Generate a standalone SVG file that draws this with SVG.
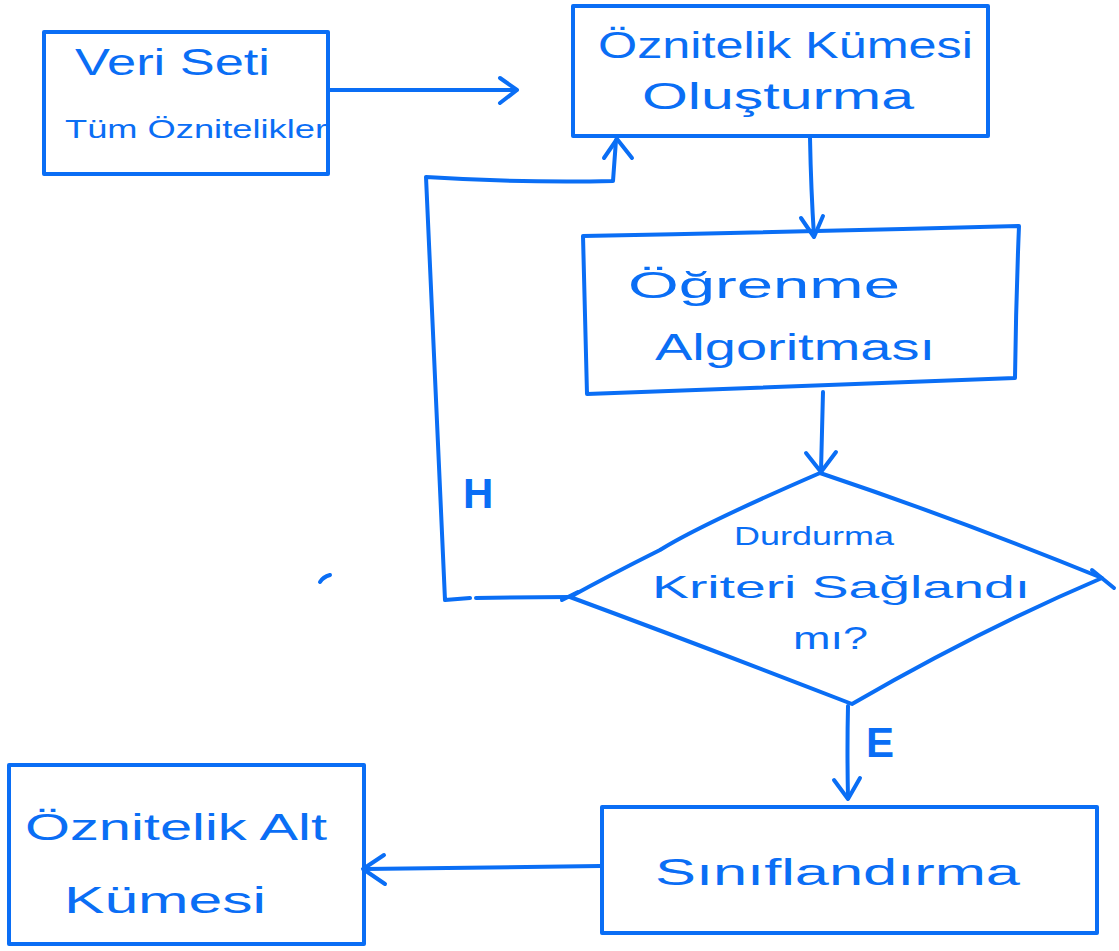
<svg xmlns="http://www.w3.org/2000/svg" width="1119" height="951" viewBox="0 0 1119 951">
  <defs>
    <style>
      .ink { fill: none; stroke: #0a6ef5; stroke-width: 4; stroke-linecap: round; stroke-linejoin: round; }
      .lbl { fill: #0a6ef5; font-family: "Liberation Sans", "DejaVu Sans", sans-serif; }
      .big { font-size: 36px; }
      .mid { font-size: 32px; }
      .sm { font-size: 26px; }
      .mark { font-family: "Liberation Sans", sans-serif; font-size: 42px; font-weight: bold; fill: #0a6ef5; }
    </style>
  </defs>
  <rect width="1119" height="951" fill="#ffffff"/>

  <!-- input dataset -->
  <g id="veri-seti">
    <path class="ink" d="M44 32 L328 32 L328 174 L44 174 Z"/>
    <text class="lbl big" x="75" y="75" textLength="195" lengthAdjust="spacingAndGlyphs">Veri Seti</text>
    <text class="lbl sm" x="65" y="138" textLength="262" lengthAdjust="spacingAndGlyphs">Tüm Öznitelikler</text>
  </g>

  <!-- feature set construction -->
  <g id="oznitelik-kumesi-olusturma">
    <path class="ink" d="M573 6 L988 6 L988 136 L573 136 Z"/>
    <text class="lbl big" x="598" y="58" textLength="375" lengthAdjust="spacingAndGlyphs">Öznitelik Kümesi</text>
    <text class="lbl big" x="642" y="109" textLength="272" lengthAdjust="spacingAndGlyphs">Oluşturma</text>
  </g>

  <!-- learning algorithm -->
  <g id="ogrenme-algoritmasi">
    <path class="ink" d="M583 236 Q800 232 1019 226 Q1016 300 1015 378 Q800 386 587 394 Q585 315 583 236 Z"/>
    <text class="lbl big" x="628" y="298" font-size="40" textLength="272" lengthAdjust="spacingAndGlyphs">Öğrenme</text>
    <text class="lbl big" x="655" y="360" font-size="40" textLength="280" lengthAdjust="spacingAndGlyphs">Algoritması</text>
  </g>

  <!-- stop criterion decision -->
  <g id="durdurma-kriteri">
    <path class="ink" d="M820 473 Q700 525 660 550 Q610 575 570 597 Q700 645 852 704 Q980 630 1102 578 Q960 520 820 473 Z"/>
    <path class="ink" d="M1092 570 L1114 588"/>
    <path class="ink" d="M562 600 L578 592"/>
    <text class="lbl sm" x="734" y="545" textLength="160" lengthAdjust="spacingAndGlyphs">Durdurma</text>
    <text class="lbl mid" x="652" y="598" textLength="378" lengthAdjust="spacingAndGlyphs">Kriteri Sağlandı</text>
    <text class="lbl mid" x="793" y="649" font-size="38" textLength="75" lengthAdjust="spacingAndGlyphs">mı?</text>
  </g>

  <!-- classification -->
  <g id="siniflandirma">
    <path class="ink" d="M602 807 L1097 807 L1097 933 L602 933 Z"/>
    <text class="lbl big" x="655" y="885" textLength="365" lengthAdjust="spacingAndGlyphs">Sınıflandırma</text>
  </g>

  <!-- resulting feature subset -->
  <g id="oznitelik-alt-kumesi">
    <path class="ink" d="M9 765 L364 765 L364 944 L9 944 Z"/>
    <text class="lbl big" x="25" y="840" font-size="40" textLength="302" lengthAdjust="spacingAndGlyphs">Öznitelik Alt</text>
    <text class="lbl big" x="64" y="913" font-size="40" textLength="202" lengthAdjust="spacingAndGlyphs">Kümesi</text>
  </g>

  <!-- connectors -->
  <g id="connectors">
    <!-- dataset to feature set -->
    <path class="ink" d="M328 90 L516 90"/>
    <path class="ink" d="M500 78 L517 90 L500 103"/>
    <!-- feature set to learning algorithm -->
    <path class="ink" d="M810 138 Q811 190 814 236"/>
    <path class="ink" d="M801 218 L814 237 L823 216"/>
    <!-- learning algorithm to decision -->
    <path class="ink" d="M823 392 Q822 435 821 471"/>
    <path class="ink" d="M806 453 L821 472 L836 452"/>
    <!-- "no" loop back to feature set -->
    <path class="ink" d="M570 597 Q520 597 476 598"/>
    <path class="ink" d="M470 598 L445 600 Q436 390 426 177 Q520 183 613 181 L616 140"/>
    <path class="ink" d="M604 158 L617 139 L632 158"/>
    <!-- "yes" to classification -->
    <path class="ink" d="M848 706 Q847 750 848 798"/>
    <path class="ink" d="M834 780 L848 799 L860 778"/>
    <!-- classification to feature subset -->
    <path class="ink" d="M600 866 Q480 867 364 869"/>
    <path class="ink" d="M384 855 L363 869 L385 884"/>
    <text class="mark" x="463" y="508">H</text>
    <text class="mark" x="866" y="757">E</text>
  </g>

  <!-- stray pen mark -->
  <path class="ink" d="M320 582 Q323 577 330 575"/>
</svg>
